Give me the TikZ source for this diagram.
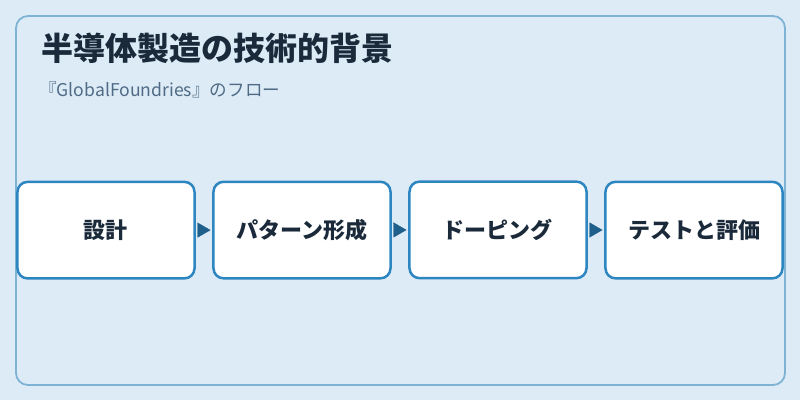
\documentclass[tikz,border=0pt]{standalone}
\usepackage{fontspec}
\setmainfont{Noto Sans CJK JP}
\usepackage{tikz}
\usetikzlibrary{matrix,arrows.meta}
\definecolor{bgblue}{HTML}{DDEBF7}
\definecolor{frameblue}{HTML}{7FB3D5}
\definecolor{stageblue}{HTML}{2E86C1}
\definecolor{tipblue}{HTML}{1F5F8B}
\definecolor{inkdark}{HTML}{1B2A3A}
\definecolor{inkgrey}{HTML}{4F6B85}

\begin{document}
\begin{tikzpicture} [x=1pt, y=-1pt, stage/.style={draw=stageblue,line width=2.5pt,fill=white,rounded corners=10pt,minimum width=177pt,minimum height=96.5pt,outer sep=0pt,text=inkdark,font=\bfseries\fontsize{22}{26}\selectfont} ]
  \useasboundingbox[fill=bgblue] (0,0) rectangle (800,400);
  \draw[frameblue, line width=1.8pt, rounded corners=12pt] (16,16) rectangle (785,385);
  \node[anchor=base west, inner sep=0pt, text=inkdark, font=\bfseries\fontsize{32}{38}\selectfont] (title) at (41,60) {半導体製造の技術的背景};
  \node[anchor=base west, inner sep=0pt, text=inkgrey, font=\fontsize{17.6}{20}\selectfont] (subtitle) at (39,96) {『GlobalFoundries』のフロー};
  \matrix (m) at (400,230) [
    matrix of nodes
    , nodes={stage}
    , column sep=16.5pt
    %, row sep=2em
  ]{
  設計 & パターン形成 & ドーピング & テストと評価 \\
  };
  \path[tipblue,-{Triangle[length=13pt,width=15pt]},shorten <=3pt,shorten >=3pt]
  (m-1-1) edge (m-1-2)
  (m-1-2) edge (m-1-3)
  (m-1-3) edge (m-1-4)
  ;
\end{tikzpicture}
\end{document}
